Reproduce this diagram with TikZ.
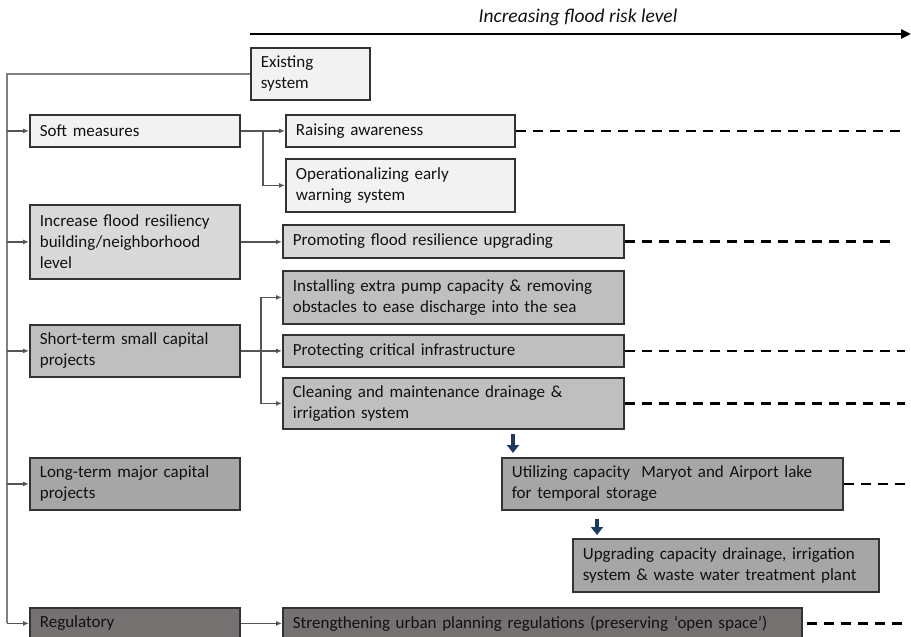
\documentclass[tikz,border=0pt]{standalone}
\usepackage{fontspec}
\setmainfont{Carlito}
\usetikzlibrary{arrows.meta,calc}
\definecolor{c1}{HTML}{F2F2F2}
\definecolor{c2}{HTML}{D9D9D9}
\definecolor{c3}{HTML}{BFBFBF}
\definecolor{c4}{HTML}{A6A6A6}
\definecolor{c5}{HTML}{767171}
\definecolor{bordc}{HTML}{333333}
\definecolor{connc}{HTML}{555555}
\definecolor{busc}{HTML}{808080}
\definecolor{navy}{HTML}{1F3A5F}
\definecolor{txtc}{HTML}{111111}
\tikzset{
  box/.style={draw=bordc, line width=1.8pt, rectangle, anchor=north west,
    inner xsep=10pt, inner ysep=0pt, align=left, text=txtc,
    font=\fontsize{17}{21}\selectfont},
  conn/.style={draw=connc, line width=1.2pt, -{Latex[length=6pt,width=5pt]}},
  busline/.style={draw=busc, line width=1.8pt},
  dashln/.style={draw=black, line width=2.5pt, dash pattern=on 10pt off 7pt},
  bluearr/.style={draw=navy, line width=4pt, -{Triangle[length=8pt,width=12pt]}},
}
\newcommand{\bx}[7]{% name, x, y, w, h, fill, text
  \node[box, fill=#6, minimum width=#4pt, minimum height=#5pt, text width=#4pt-20pt] (#1) at (#2,#3) {#7};}
\begin{document}
\begin{tikzpicture}[x=1pt,y=-1pt]
\useasboundingbox (0,0) rectangle (911,637);
% top arrow
\coordinate (ta) at (250,34);
\coordinate (tb) at (911,34);
\draw[line width=2.8pt, -{Triangle[length=10pt,width=9pt]}] (ta) -- (tb);
\node[font=\fontsize{19.5}{23}\selectfont\itshape, text=txtc] (title) at (578,17) {Increasing flood risk level};
% boxes
\bx{exist}{250}{47}{119}{52}{c1}{Existing\\system}
\bx{soft}{29}{114}{210}{32}{c1}{Soft measures}
\bx{raise}{285}{114}{229}{32}{c1}{Raising awareness}
\bx{op}{285}{158}{229}{53}{c1}{Operationalizing early\\warning system}
\bx{inc}{29}{204}{210}{74}{c2}{Increase flood resiliency\\building/neighborhood\\level}
\bx{prom}{282}{224}{341}{33}{c2}{Promoting flood resilience upgrading}
\bx{inst}{282}{270}{341}{53}{c3}{Installing extra pump capacity \& removing\\obstacles to ease discharge into the sea}
\bx{short}{29}{324}{210}{52}{c3}{Short-term small capital\\projects}
\bx{prot}{282}{334}{341}{32}{c3}{Protecting critical infrastructure}
\bx{clean}{282}{377}{341}{51}{c3}{Cleaning and maintenance drainage \&\\irrigation system}
\bx{long}{29}{457}{210}{52}{c4}{Long-term major capital\\projects}
\bx{util}{501}{457}{341}{52}{c4}{Utilizing capacity~ Maryot and Airport lake\\for temporal storage}
\bx{upg}{572}{538}{306}{53}{c4}{Upgrading capacity drainage, irrigation\\system \& waste water treatment plant}
\bx{reg}{29}{607}{210}{31}{c5}{Regulatory}
\bx{str}{282}{607}{519}{31}{c5}{Strengthening urban planning regulations (preserving ‘open space’)}
% bus
\coordinate (bus) at (7,0);
\draw[busline] (exist.west) -| (bus |- reg.west);
\foreach \n in {soft,inc,short,long,reg}{
  \draw[conn] (bus |- \n.west) -- (\n.west);
}
% branches
\coordinate (br1) at (263,0);
\coordinate (br2) at (261,0);
\draw[conn] (soft.east) -- (raise.west);
\draw[conn] (br1 |- soft.east) |- (op.west);
\draw[conn] (inc.east) -- (inc.east -| prom.west);
\draw[conn] (short.east) -- (short.east -| prot.west);
\draw[conn] (br2 |- short.east) |- (inst.west);
\draw[conn] (br2 |- short.east) |- (clean.west);
\draw[conn] (reg.east) -- (reg.east -| str.west);
% dashed
\coordinate (dend) at (905,0);
\coordinate (dend2) at (890,0);
\draw[dashln] (raise.east) -- (raise.east -| dend);
\draw[dashln] (prom.east) -- (prom.east -| dend2);
\draw[dashln] (prot.east) -- (prot.east -| dend);
\draw[dashln] (clean.east) -- (clean.east -| dend);
\draw[dashln] (util.east) -- (util.east -| dend);
\draw[dashln] ([xshift=4pt]str.east) -- (str.east -| dend);
% blue arrows
\coordinate (a1) at (513,0);
\coordinate (a2) at (597,0);
\draw[bluearr] ([yshift=-4pt]clean.south -| a1) -- ([yshift=4pt]util.north -| a1);
\draw[bluearr] ([yshift=-8pt]util.south -| a2) -- ([yshift=3pt]upg.north -| a2);
\end{tikzpicture}
\end{document}
